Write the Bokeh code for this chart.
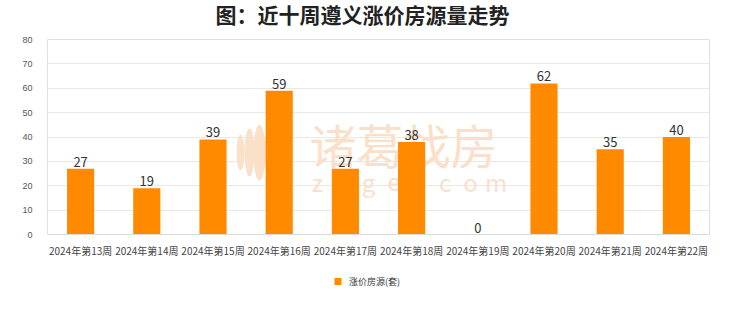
import numpy as np
from bokeh.plotting import figure
from bokeh.layouts import column
from bokeh.models import ColumnDataSource, Range1d, FactorRange, Legend, LegendItem, Label, FixedTicker, PolyAnnotation, BoxAnnotation
from bokeh.core.properties import value
from bokeh.embed import file_html
from bokeh.resources import INLINE

weeks = ["2024年第13周", "2024年第14周", "2024年第15周", "2024年第16周", "2024年第17周",
         "2024年第18周", "2024年第19周", "2024年第20周", "2024年第21周", "2024年第22周"]
rises = [27, 19, 39, 59, 27, 38, 0, 62, 35, 40]
series_name = "涨价房源(套)"
title_text = "图：近十周遵义涨价房源量走势"
y_ticks = [0, 10, 20, 30, 40, 50, 60, 70, 80]

FONT = "Noto Sans CJK SC"
WM = "#FADFC9"
BAR = "#FF8A00"


def strip(h):
    f = figure(width=740, height=h, output_backend="svg", toolbar_location=None,
               x_range=Range1d(0, 1), y_range=Range1d(0, 1),
               min_border=0, min_border_left=0, min_border_right=0, min_border_top=0, min_border_bottom=0)
    f.axis.visible = False
    f.grid.visible = False
    f.outline_line_color = None
    f.background_fill_color = "white"
    f.border_fill_color = "white"
    return f


# title strip
tf = strip(34)
tf.add_layout(Label(x=315, y=21, x_units="screen", y_units="screen", text=title_text,
                    text_align="center", text_baseline="middle", text_font=FONT,
                    text_font_size="21px", text_font_style="bold", text_color="#222222"))

src = ColumnDataSource(dict(x=weeks, top=rises, label=[str(v) for v in rises]))

p = figure(width=740, height=226, output_backend="svg", toolbar_location=None,
           x_range=FactorRange(factors=weeks, range_padding=0), y_range=Range1d(0, 80),
           min_border_left=47, min_border_right=31, min_border_top=5, min_border_bottom=26)

# watermark (behind the bars), positions in frame screen units
p.add_layout(Label(x=262, y=91, x_units="screen", y_units="screen", text="诸葛找房",
                   text_baseline="middle", text_font=FONT, text_font_size="47px",
                   text_color=WM, level="underlay"))
for i, ch in enumerate("zuge.com"):
    p.add_layout(Label(x=270 + i * 25.5, y=53, x_units="screen", y_units="screen", text=ch,
                       text_align="center", text_baseline="middle", text_font=FONT,
                       text_font_size="24px", text_color=WM, level="underlay"))
t = np.linspace(0, np.pi, 20)
for cx, hw, hh in [(212, 6, 28), (202, 5, 24), (222, 5, 24), (193, 4, 18), (231, 4, 18)]:
    xs = list(cx + hw * np.sin(t)) + list(cx - hw * np.sin(t[::-1]))
    ys = list(82 + hh * np.cos(t)) + list(82 + hh * np.cos(t[::-1]))
    p.add_layout(PolyAnnotation(xs=xs, ys=ys, xs_units="screen", ys_units="screen",
                                fill_color=WM, fill_alpha=1, line_color=None, level="underlay"))

p.vbar(x="x", top="top", width=0.41, source=src, fill_color=BAR, line_color=None)
p.text(x="x", y="top", text="label", source=src, text_align="center", text_baseline="bottom",
       y_offset=-2, text_font=value(FONT), text_font_size="13px", text_color="#333333")

p.yaxis.ticker = FixedTicker(ticks=y_ticks)
p.yaxis.axis_line_color = None
p.yaxis.major_tick_line_color = None
p.yaxis.minor_tick_line_color = None
p.yaxis.major_label_text_font_size = "9px"
p.yaxis.major_label_text_color = "#555555"
p.yaxis.major_label_standoff = 9

p.xaxis.axis_line_color = "#D9D9D9"
p.xaxis.major_tick_line_color = None
p.xaxis.minor_tick_line_color = None
p.xaxis.major_label_text_font = FONT
p.xaxis.major_label_text_font_size = "10px"
p.xaxis.major_label_text_color = "#444444"
p.xaxis.major_label_standoff = 2

p.xgrid.grid_line_color = None
p.ygrid.grid_line_color = "#E8E8E8"
p.outline_line_color = "#E0E0E0"
p.background_fill_color = "white"
p.border_fill_color = "white"

# legend strip below the chart
lf = strip(52)
lr = lf.vbar(x=[], top=[], width=0.1, fill_color=BAR, line_color=None)
legend = Legend(items=[LegendItem(label=series_name, renderers=[lr])], orientation="horizontal",
                location=(290, 24), label_text_font=FONT, label_text_font_size="9px",
                label_text_color="#333333", glyph_width=7, glyph_height=7, label_standoff=5,
                border_line_color=None, background_fill_alpha=0, padding=2, spacing=0, margin=0)
lf.add_layout(legend, "center")
lf.add_layout(BoxAnnotation(left=287, right=294, bottom=27.5, top=34.5,
                            left_units="screen", right_units="screen",
                            bottom_units="screen", top_units="screen",
                            fill_color=BAR, fill_alpha=1, line_color=None))

open("out.html", "w").write(file_html(column(tf, p, lf, spacing=0), INLINE))
